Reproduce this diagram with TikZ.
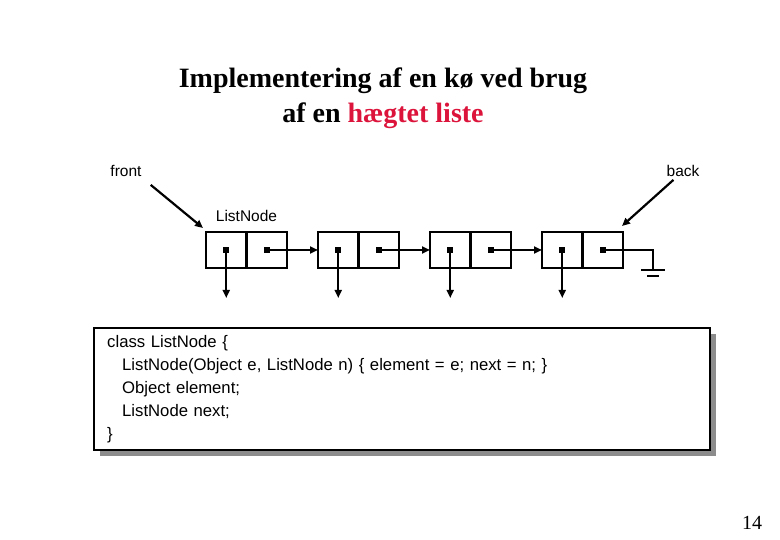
\documentclass[tikz,border=0pt]{standalone}
\usepackage{fontspec}
\setmainfont{Liberation Serif}
\newfontfamily\arialfont{Liberation Sans}
\usepackage{xcolor}
\usepackage{tikz}
\usetikzlibrary{positioning,arrows.meta,calc,shadows}
\definecolor{titlered}{RGB}{220,20,60}

\begin{document}
\begin{tikzpicture}[x=1pt,y=-1pt,
  node distance=31pt,
  cell/.style={draw,line width=2.2pt,minimum width=40.5pt,minimum height=36pt,inner sep=0pt,outer sep=0pt},
  lbl/.style={font=\arialfont\fontsize{15.5}{18}\selectfont,inner sep=1pt},
  arr/.style={-{Triangle[length=8pt,width=7pt]},line width=2.2pt},
  codebox/.style={draw,line width=2.4pt,fill=white,align=left,text width=590pt,minimum height=122pt,inner xsep=13pt,
    font=\arialfont\fontsize{16.7}{23}\selectfont,drop shadow={shadow xshift=6pt,shadow yshift=-6pt,fill=black!45,opacity=1}}]
\useasboundingbox (0,0) rectangle (780,540);
\node[align=center,font=\fontsize{28}{35}\selectfont\bfseries] (title) at (383,98)
  {Implementering af en kø ved brug\\af en \textcolor{titlered}{hægtet liste}};
% the list
\node[cell] (a1) at (226.25,250) {};
\node[cell,right=0pt of a1] (b1) {};
\node[cell,right=of b1] (a2) {};
\node[cell,right=0pt of a2] (b2) {};
\node[cell,right=of b2] (a3) {};
\node[cell,right=0pt of a3] (b3) {};
\node[cell,right=of b3] (a4) {};
\node[cell,right=0pt of a4] (b4) {};
\foreach \c in {a1,b1,a2,b2,a3,b3,a4,b4}
  \fill (\c.center) +(-3,-3) rectangle +(3,3);
\node[lbl,above=9pt of a1.north east] (lnode) {ListNode};
\draw[arr] (b1.center) -- (a2.west); \draw[arr] (b2.center) -- (a3.west); \draw[arr] (b3.center) -- (a4.west);
% elements
\coordinate (e1) at ($(a1.center)+(0,48)$);
\coordinate (e2) at ($(a2.center)+(0,48)$);
\coordinate (e3) at ($(a3.center)+(0,48)$);
\coordinate (e4) at ($(a4.center)+(0,48)$);
\draw[arr] (a1.center) -- (e1); \draw[arr] (a2.center) -- (e2);
\draw[arr] (a3.center) -- (e3); \draw[arr] (a4.center) -- (e4);
% null
\coordinate (gnd) at ($(b4.center)+(50.25,20)$);
\draw[line width=2.2pt] (b4.center) -| (gnd);
\draw[line width=2.2pt] ($(gnd)+(-12,0)$) -- ($(gnd)+(12,0)$);
\draw[line width=2.2pt] ($(gnd)+(-6,6)$) -- ($(gnd)+(6,6)$);
% front and back
\node[lbl] (front) at (126,171) {front};
\node[lbl] (back) at (683,171) {back};
\coordinate (fronttip) at ($(a1.north west)+(-3,-4)$);
\coordinate (backtip) at ($(b4.north east)+(-1,-6)$);
\draw[arr] ($(front.south east)+(8,7)$) -- (fronttip);
\draw[arr] ($(back.south west)+(8,2)$) -- (backtip);
% the class
\node[codebox,anchor=north west] (code) at (93,327) {class ListNode \{\\
\hspace*{15pt}ListNode(Object e, ListNode n) \{ element = e; next = n; \}\\
\hspace*{15pt}Object element;\\
\hspace*{15pt}ListNode next;\\
\}};
\node[font=\fontsize{20}{24}\selectfont] (page) at (752,523) {14};
\end{tikzpicture}
\end{document}
